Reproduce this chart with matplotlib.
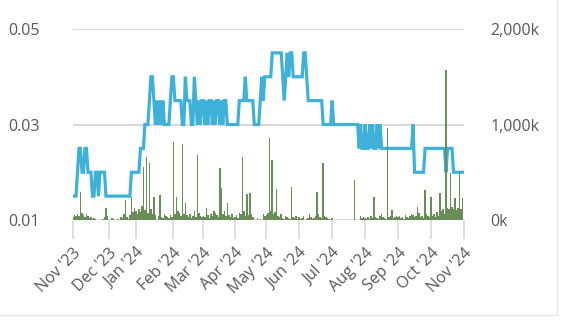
import numpy as np
import matplotlib
matplotlib.use("Agg")
import matplotlib.pyplot as plt
from matplotlib.lines import Line2D
from matplotlib.ticker import FuncFormatter

# trading sessions per month (Nov '23 .. Oct '24)
months = ["Nov '23", "Dec '23", "Jan '24", "Feb '24", "Mar '24", "Apr '24", "May '24",
          "Jun '24", "Jul '24", "Aug '24", "Sep '24", "Oct '24", "Nov '24"]
sessions = [24, 18, 25, 20, 21, 21, 22, 22, 22, 22, 22, 22]

# close price per session
price = (
    [.015, .015, .015, .02, .025, .025, .02, .02, .025, .025, .02, .02, .02, .015, .015, .02,
     .02, .015, .02, .02, .02, .02, .015, .015]
    + [.015] * 15 + [.02] * 3
    + [.02, .02, .02, .025, .025, .025, .03, .03, .03, .035, .04, .04, .035, .03, .035, .03,
       .035, .03, .035, .03, .03, .03, .03, .035, .04]
    + [.04, .035, .035, .035, .035, .035, .03, .03, .04, .035, .035, .035, .03, .03, .04, .035,
       .03, .035, .03, .035]
    + [.035, .03, .035, .03, .035, .035, .03, .035, .03, .035, .035, .03, .035, .03, .035, .035,
       .03, .03, .03, .03, .03]
    + [.03, .03, .03, .035, .035, .035, .035, .04, .035, .035, .035, .035, .035, .03, .03, .03,
       .03, .035, .04, .035, .04]
    + [.04, .04, .04, .04, .045, .045, .045, .045, .045, .045, .045, .04, .035, .04, .045, .04,
       .045, .045, .04, .04, .04, .04]
    + [.04, .04, .04, .045, .045, .04] + [.035] * 10 + [.03] * 6
    + [.035] + [.03] * 17 + [.025, .03, .025, .025]
    + [.03, .025, .025, .03, .025, .03, .025, .025, .03, .025, .03, .025, .025] + [.025] * 9
    + [.025] * 10 + [.03] + [.02] * 7 + [.025] * 4
    + [.025] * 10 + [.02] + [.025] * 4 + [.02] * 7
)

# volume per session (thousands)
volume = (
    [35, 55, 45, 60, 40, 296, 70, 50, 35, 60, 40, 25, 30, 15, 20, 10, 0, 0, 0, 0, 15, 30, 125, 40]
    + [0, 0, 20, 10, 0, 0, 15, 0, 30, 25, 60, 209, 30, 15, 50, 241, 80, 130]
    + [90, 60, 120, 80, 150, 558, 100, 663, 70, 600, 110, 60, 240, 50, 0, 40, 262, 30, 20, 60,
       40, 35, 25, 50, 30]
    + [820, 60, 240, 90, 70, 40, 800, 60, 180, 50, 30, 60, 20, 40, 90, 30, 680, 70, 40, 30]
    + [40, 30, 130, 50, 20, 60, 40, 90, 70, 50, 30, 545, 335, 60, 90, 40, 180, 50, 30, 60, 20]
    + [30, 50, 20, 70, 60, 663, 90, 40, 270, 50, 280, 60, 30, 0, 0, 20, 0, 10, 0, 60, 40]
    + [50, 70, 858, 90, 628, 60, 80, 320, 40, 30, 60, 20, 10, 40, 30, 20, 10, 349, 30, 20, 40, 10]
    + [30, 10, 20, 40, 0, 10, 20, 60, 30, 15, 20, 40, 297, 60, 30, 20, 597, 40, 30, 20, 10, 0]
    + [20, 0, 0, 0, 0, 0, 0, 0, 0, 0, 0, 0, 0, 0, 0, 419, 0, 0, 0, 40, 20, 30]
    + [20, 15, 30, 10, 40, 20, 244, 30, 20, 10, 40, 60, 30, 20, 10, 960, 30, 40, 100, 20, 30, 40]
    + [30, 40, 20, 30, 10, 50, 30, 20, 40, 60, 50, 30, 40, 140, 70, 30, 40, 20, 314, 60, 40, 30]
    + [240, 40, 60, 30, 80, 40, 280, 90, 120, 60, 1571, 130, 110, 492, 140, 120, 230, 100, 130,
       510, 120, 230]
)

price_ticks = [0.01, 0.03, 0.05]
vol_ticks = [0, 1000, 2000]

BLUE = "#3fb1d9"
GREEN = "#6a8c58"
GRID = "#d6d6d6"
TEXT = "#585858"

plt.rcParams["font.family"] = ["Open Sans", "DejaVu Sans"]

x = np.arange(len(price))
tick_pos = np.concatenate([[0], np.cumsum(sessions)])

fig = plt.figure(figsize=(5.66, 3.22), dpi=100)
ax = fig.add_axes([73 / 566, 102 / 322, 391 / 566, 191 / 322])
ax2 = ax.twinx()

ax.plot(x, price, color=BLUE, lw=2.3, solid_joinstyle="miter", zorder=3)
ax2.bar(x, volume, width=1.0, color=GREEN, lw=0, zorder=4)

ax.set_ylim(0.01, 0.05)
ax2.set_ylim(0, 2000)
ax.set_xlim(0, tick_pos[-1])

ax.set_yticks(price_ticks)
ax.set_yticklabels(["%.2f" % v for v in price_ticks])
ax2.set_yticks(vol_ticks)
ax2.yaxis.set_major_formatter(FuncFormatter(lambda v, p: "{:,.0f}k".format(v)))

ax.grid(axis="y", color=GRID, lw=1.3)
ax.set_axisbelow(True)
ax.set_xticks(tick_pos)
ax.set_xticklabels(months, rotation=45, ha="right", rotation_mode="anchor")

for a in (ax, ax2):
    for s in a.spines.values():
        s.set_visible(False)
ax.tick_params(axis="y", length=0, pad=24, labelsize=11.5, labelcolor=TEXT)
ax2.tick_params(axis="y", length=0, pad=19, labelsize=11.5, labelcolor=TEXT)
ax.tick_params(axis="x", length=14, width=1.1, color=GRID, pad=4, labelsize=11.5,
               labelcolor=TEXT)

# faint card border on right and bottom
fig.add_artist(Line2D([557 / 566, 557 / 566], [7 / 322, 1], color="#e6e6e6", lw=1))
fig.add_artist(Line2D([0, 557 / 566], [7 / 322, 7 / 322], color="#e6e6e6", lw=1))

fig.savefig("out.png", dpi=100)
